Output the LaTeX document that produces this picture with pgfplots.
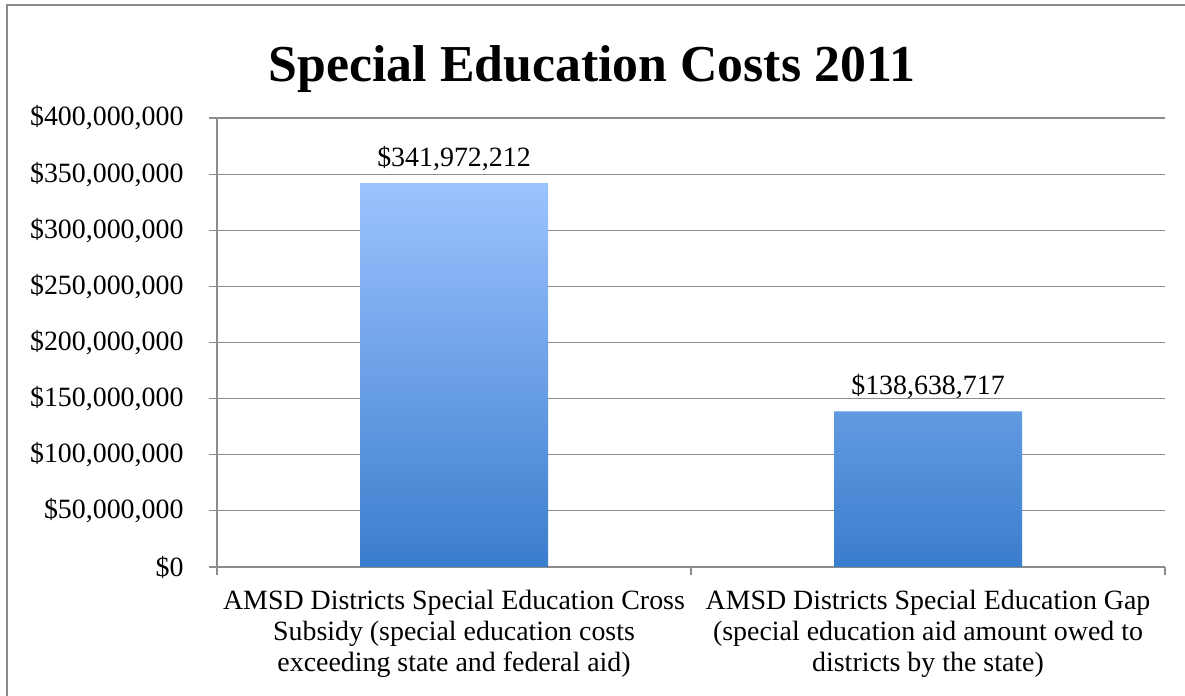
\documentclass[border=0pt]{standalone}
\usepackage{fontspec}
\setmainfont{Liberation Serif}
\usepackage{pgfplots}
\pgfplotsset{compat=1.18}
\definecolor{gridc}{HTML}{8C8C8C}
\definecolor{framec}{HTML}{8A8A8A}
\definecolor{bartop}{HTML}{9DC3FF}
\definecolor{barbot}{HTML}{3A7DCD}
\begin{document}
\begin{tikzpicture}[x=1bp,y=1bp]
\useasboundingbox (0,0) rectangle (1185,696);
\draw[framec, line width=2.5bp] (7,0) -- (7,691) -- (1185,691);
\node[font=\fontsize{52}{60}\selectfont\bfseries, anchor=base] at (592,614) {Special Education Costs 2011};
\begin{axis}[
  at={(217bp,129bp)}, anchor=south west,
  scale only axis, width=948bp, height=449bp,
  xmin=-0.5, xmax=1.5, ymin=0, ymax=400000000,
  axis x line=bottom, axis y line=left,
  axis line style={-, gridc, line width=1.2bp},
  scaled y ticks=false,
  ytick={0,50000000,100000000,150000000,200000000,250000000,300000000,350000000,400000000},
  yticklabels={{\$0},{\$50,000,000},{\$100,000,000},{\$150,000,000},{\$200,000,000},{\$250,000,000},{\$300,000,000},{\$350,000,000},{\$400,000,000}},
  yticklabel style={font=\fontsize{28}{32}\selectfont, xshift=-22bp},
  ymajorgrids, grid style={gridc, line width=1.2bp},
  tick align=outside, major tick length=8bp,
  tick style={gridc, line width=1.2bp},
  xtick={-0.5,0.5,1.5}, xticklabels={},
  extra x ticks={0,1},
  extra x tick labels={{AMSD Districts Special Education Cross\\Subsidy (special education costs\\exceeding state and federal aid)},{AMSD Districts Special Education Gap\\(special education aid amount owed to\\districts by the state)}},
  extra x tick style={major tick length=0pt, grid=none, xticklabel style={align=center, font=\fontsize{28}{31}\selectfont, yshift=-20bp}},
]
\addplot[ybar, bar width=188bp, draw=none, top color=bartop, bottom color=barbot,
  point meta=explicit symbolic, nodes near coords,
  nodes near coords style={anchor=base, yshift=17bp, text=black, font=\fontsize{28}{32}\selectfont}]
  coordinates {(0,341972212) [\$341,972,212] (1,138638717) [\$138,638,717]};
\end{axis}
\end{tikzpicture}
\end{document}
